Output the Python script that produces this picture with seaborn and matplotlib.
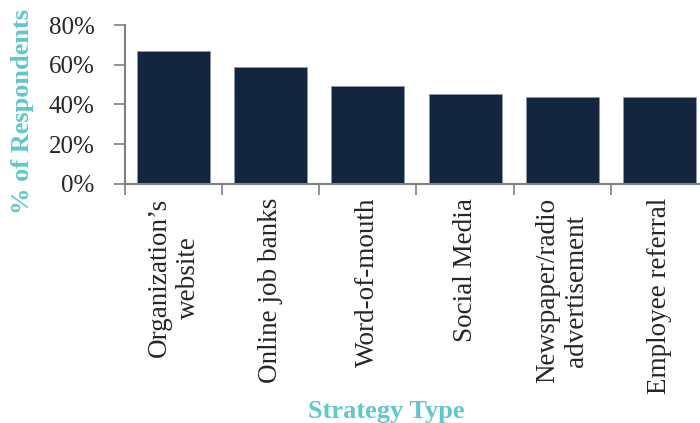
import matplotlib
matplotlib.use("Agg")
import matplotlib.pyplot as plt
import seaborn as sns
import pandas as pd
import numpy as np
from matplotlib.ticker import PercentFormatter, FixedLocator

# Survey results: share of respondents using each recruiting strategy
strategies = [
    "Organization’s\nwebsite",
    "Online job banks",
    "Word-of-mouth",
    "Social Media",
    "Newspaper/radio\nadvertisement",
    "Employee referral",
]
share = [66.7, 58.7, 49.3, 45.3, 44.0, 44.0]
y_ticks = [0, 20, 40, 60, 80]

df = pd.DataFrame({"strategy": strategies, "share": share})

sns.set_theme(style="white")
plt.rcParams["font.family"] = ["Liberation Serif", "DejaVu Serif"]

fig = plt.figure(figsize=(7.0, 4.23), dpi=100)
ax = fig.add_axes([125 / 700, 1 - 184 / 423, 583 / 700, 159 / 423])

bar_color = "#13253f"
accent = "#5fc7cd"

sns.barplot(data=df, x="strategy", y="share", color=bar_color, width=0.75,
            edgecolor="#8a96a6", linewidth=0.6, saturation=1, ax=ax)

ax.set_xlim(-0.5, len(strategies) - 0.5)
ax.set_ylim(0, 80)
ax.yaxis.set_major_locator(FixedLocator(y_ticks))
ax.yaxis.set_major_formatter(PercentFormatter(decimals=0))

# Category labels at bar centres, tick marks at the category boundaries
ax.set_xticks(range(len(strategies)))
ax.set_xticklabels(strategies, rotation=90, ha="center", va="top",
                   multialignment="center")
ax.set_xticks(np.arange(-0.5, len(strategies), 1.0), minor=True)
ax.tick_params(axis="x", which="major", bottom=True, length=0, pad=10,
               labelsize=19.5, labelcolor="#262626")
ax.tick_params(axis="x", which="minor", bottom=True, length=8, width=1.2,
               color="#7f7f7f", direction="out")
ax.tick_params(axis="y", which="major", left=True, length=8, width=1.2,
               color="#7f7f7f", direction="out", labelsize=18,
               labelcolor="#262626", pad=14)

for side in ("top", "right"):
    ax.spines[side].set_visible(False)
for side in ("left", "bottom"):
    ax.spines[side].set_color("#7f7f7f")
    ax.spines[side].set_linewidth(1.5)

ax.set_xlabel("")
ax.set_ylabel("")

fig.text(23 / 700, 1 - 112 / 423, "% of Respondents", rotation=90,
         ha="center", va="center", fontsize=19, fontweight="bold",
         color=accent)
fig.text(386 / 700, 1 - 418 / 423, "Strategy Type", ha="center",
         va="baseline", fontsize=19, fontweight="bold", color=accent)

fig.savefig("out.png", dpi=100)
